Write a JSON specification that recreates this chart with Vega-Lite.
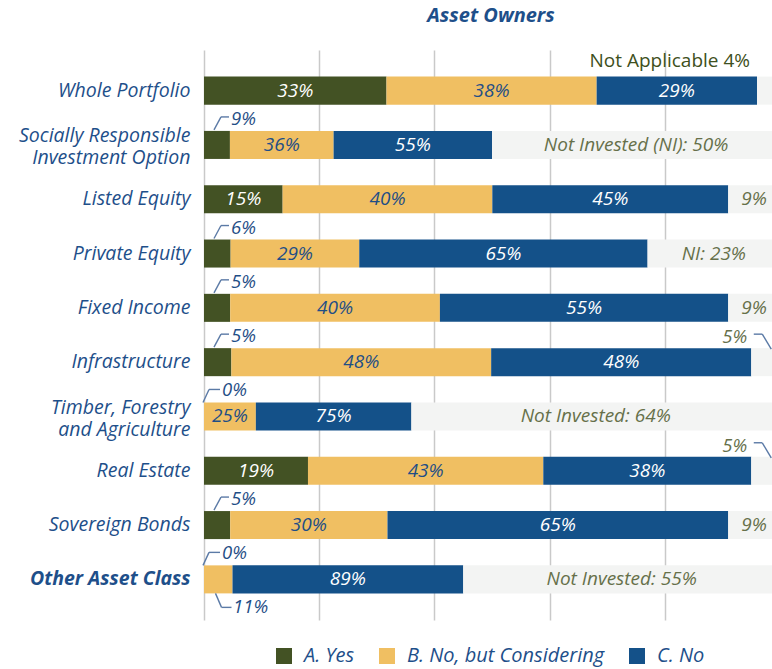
{
  "$schema": "https://vega.github.io/schema/vega-lite/v6.json",
  "width": 568,
  "height": 570,
  "autosize": {"type": "none"},
  "padding": {"left": 204, "top": 50, "right": 0, "bottom": 49},
  "background": "white",
  "title": {"text": "Asset Owners", "fontSize": 20, "fontStyle": "italic", "fontWeight": "bold", "color": "#1e4f8a", "font": "Open Sans", "anchor": "middle", "baseline": "alphabetic", "frame": "group", "offset": 8, "dx": 3},
  "data": {"values": [
    {"category": "Whole Portfolio", "answer": "A. Yes", "share": 31.68, "label": "33%"},
    {"category": "Whole Portfolio", "answer": "B. No, but Considering", "share": 36.48, "label": "38%"},
    {"category": "Whole Portfolio", "answer": "C. No", "share": 27.84, "label": "29%"},
    {"category": "Whole Portfolio", "answer": "Not Invested / Not Applicable", "share": 4, "label": "Not Applicable 4%"},
    {"category": "Socially Responsible Investment Option", "answer": "A. Yes", "share": 4.5, "label": "9%"},
    {"category": "Socially Responsible Investment Option", "answer": "B. No, but Considering", "share": 18, "label": "36%"},
    {"category": "Socially Responsible Investment Option", "answer": "C. No", "share": 27.5, "label": "55%"},
    {"category": "Socially Responsible Investment Option", "answer": "Not Invested / Not Applicable", "share": 50, "label": "Not Invested (NI): 50%"},
    {"category": "Listed Equity", "answer": "A. Yes", "share": 13.65, "label": "15%"},
    {"category": "Listed Equity", "answer": "B. No, but Considering", "share": 36.4, "label": "40%"},
    {"category": "Listed Equity", "answer": "C. No", "share": 40.95, "label": "45%"},
    {"category": "Listed Equity", "answer": "Not Invested / Not Applicable", "share": 9, "label": "9%"},
    {"category": "Private Equity", "answer": "A. Yes", "share": 4.62, "label": "6%"},
    {"category": "Private Equity", "answer": "B. No, but Considering", "share": 22.33, "label": "29%"},
    {"category": "Private Equity", "answer": "C. No", "share": 50.05, "label": "65%"},
    {"category": "Private Equity", "answer": "Not Invested / Not Applicable", "share": 23, "label": "NI: 23%"},
    {"category": "Fixed Income", "answer": "A. Yes", "share": 4.55, "label": "5%"},
    {"category": "Fixed Income", "answer": "B. No, but Considering", "share": 36.4, "label": "40%"},
    {"category": "Fixed Income", "answer": "C. No", "share": 50.05, "label": "55%"},
    {"category": "Fixed Income", "answer": "Not Invested / Not Applicable", "share": 9, "label": "9%"},
    {"category": "Infrastructure", "answer": "A. Yes", "share": 4.75, "label": "5%"},
    {"category": "Infrastructure", "answer": "B. No, but Considering", "share": 45.1, "label": "48%"},
    {"category": "Infrastructure", "answer": "C. No", "share": 45.15, "label": "48%"},
    {"category": "Infrastructure", "answer": "Not Invested / Not Applicable", "share": 5, "label": "5%"},
    {"category": "Timber, Forestry and Agriculture", "answer": "A. Yes", "share": 0, "label": "0%"},
    {"category": "Timber, Forestry and Agriculture", "answer": "B. No, but Considering", "share": 9, "label": "25%"},
    {"category": "Timber, Forestry and Agriculture", "answer": "C. No", "share": 27, "label": "75%"},
    {"category": "Timber, Forestry and Agriculture", "answer": "Not Invested / Not Applicable", "share": 64, "label": "Not Invested: 64%"},
    {"category": "Real Estate", "answer": "A. Yes", "share": 18.05, "label": "19%"},
    {"category": "Real Estate", "answer": "B. No, but Considering", "share": 40.85, "label": "43%"},
    {"category": "Real Estate", "answer": "C. No", "share": 36.1, "label": "38%"},
    {"category": "Real Estate", "answer": "Not Invested / Not Applicable", "share": 5, "label": "5%"},
    {"category": "Sovereign Bonds", "answer": "A. Yes", "share": 4.55, "label": "5%"},
    {"category": "Sovereign Bonds", "answer": "B. No, but Considering", "share": 27.3, "label": "30%"},
    {"category": "Sovereign Bonds", "answer": "C. No", "share": 59.15, "label": "65%"},
    {"category": "Sovereign Bonds", "answer": "Not Invested / Not Applicable", "share": 9, "label": "9%"},
    {"category": "Other Asset Class", "answer": "A. Yes", "share": 0, "label": "0%"},
    {"category": "Other Asset Class", "answer": "B. No, but Considering", "share": 4.95, "label": "11%"},
    {"category": "Other Asset Class", "answer": "C. No", "share": 40.05, "label": "89%"},
    {"category": "Other Asset Class", "answer": "Not Invested / Not Applicable", "share": 55, "label": "Not Invested: 55%"}
  ]},
  "transform": [
    {"stack": "share", "groupby": ["category"], "sort": [{"field": "answer", "order": "ascending"}], "as": ["x0", "x1"]}
  ],
  "encoding": {
    "y": {
      "field": "category", "type": "nominal", "title": null,
      "scale": {"domain": ["Whole Portfolio", "Socially Responsible Investment Option", "Listed Equity", "Private Equity", "Fixed Income", "Infrastructure", "Timber, Forestry and Agriculture", "Real Estate", "Sovereign Bonds", "Other Asset Class"], "paddingInner": 0.484, "paddingOuter": 0.49},
      "axis": {
        "domain": false, "ticks": false, "grid": false, "title": null,
        "labelFont": "Open Sans", "labelFontSize": 19.5, "labelFontStyle": "italic", "labelColor": "#1e4f8a",
        "labelPadding": 14, "labelLimit": 0, "labelLineHeight": 22, "labelAlign": "right", "labelBaseline": "middle",
        "labelOffset": {"condition": {"test": "datum.value === 'Socially Responsible Investment Option' || datum.value === 'Timber, Forestry and Agriculture'", "value": -8.5}, "value": 0},
        "labelFontWeight": {"condition": {"test": "datum.value === 'Other Asset Class'", "value": "bold"}, "value": "normal"},
        "labelExpr": "datum.value === 'Socially Responsible Investment Option' ? ['Socially Responsible', 'Investment Option'] : datum.value === 'Timber, Forestry and Agriculture' ? ['Timber, Forestry', 'and Agriculture'] : datum.value"
      }
    }
  },
  "layer": [
    {
      "mark": {"type": "bar", "clip": true},
      "encoding": {
        "x": {"field": "x0", "type": "quantitative", "scale": {"domain": [0, 98.6], "nice": false, "zero": true},
              "axis": {"title": null, "labels": false, "ticks": false, "domain": false, "grid": true, "values": [0, 20, 40, 60, 80], "gridColor": "#c9c9c9", "gridWidth": 1.5}},
        "x2": {"field": "x1"},
        "color": {"field": "answer", "type": "nominal", "title": null,
          "scale": {"domain": ["A. Yes", "B. No, but Considering", "C. No", "Not Invested / Not Applicable"], "range": ["#435224", "#f0bf62", "#145189", "#f3f4f3"]},
          "legend": {"values": ["A. Yes", "B. No, but Considering", "C. No"], "orient": "none", "direction": "horizontal", "legendX": 70, "legendY": 596,
            "symbolType": "square", "symbolSize": 256, "symbolStrokeWidth": 0, "symbolOpacity": 1,
            "labelFont": "Open Sans", "labelFontSize": 20, "labelFontStyle": "italic", "labelColor": "#1e4f8a", "labelOffset": 10, "columnPadding": 22, "labelLimit": 0}}
      }
    },
    {
      "transform": [{"filter": "datum.share >= 6"}, {"fold": ["x0", "x1"], "as": ["k", "v"]}],
      "mark": {"type": "text", "font": "Open Sans", "fontSize": 19, "fontStyle": "italic", "align": "center", "baseline": "middle"},
      "encoding": {
        "x": {"aggregate": "mean", "field": "v", "type": "quantitative", "title": null},
        "text": {"field": "label"},
        "fill": {"field": "answer", "type": "nominal", "legend": null,
          "scale": {"domain": ["A. Yes", "B. No, but Considering", "C. No", "Not Invested / Not Applicable"], "range": ["#ffffff", "#1f4e86", "#ffffff", "#66704a"]}}
      }
    },
    {
      "transform": [{"filter": "datum.answer === 'A. Yes' && datum.share > 0 && datum.share < 6"}],
      "mark": {"type": "rule", "color": "#5b7aa6", "strokeWidth": 1.4, "xOffset": 10, "x2Offset": 17, "yOffset": -15, "y2Offset": -28},
      "encoding": {"x": {"datum": 0, "type": "quantitative", "title": null}, "x2": {"datum": 0}, "y2": {"field": "category"}}
    },
    {
      "transform": [{"filter": "datum.answer === 'A. Yes' && datum.share > 0 && datum.share < 6"}],
      "mark": {"type": "rule", "color": "#5b7aa6", "strokeWidth": 1.4, "xOffset": 17, "x2Offset": 25, "yOffset": -28},
      "encoding": {"x": {"datum": 0, "type": "quantitative", "title": null}, "x2": {"datum": 0}}
    },
    {
      "transform": [{"filter": "datum.answer === 'A. Yes' && datum.share > 0 && datum.share < 6"}],
      "mark": {"type": "text", "font": "Open Sans", "fontSize": 18.5, "fontStyle": "italic", "align": "left", "baseline": "middle", "dx": 27, "dy": -26, "color": "#1f4e86"},
      "encoding": {"x": {"datum": 0, "type": "quantitative", "title": null}, "text": {"field": "label"}}
    },
    {
      "transform": [{"filter": "datum.answer === 'A. Yes' && datum.share === 0"}],
      "mark": {"type": "rule", "color": "#5b7aa6", "strokeWidth": 1.4, "xOffset": -1, "x2Offset": 5, "yOffset": -14, "y2Offset": -27},
      "encoding": {"x": {"datum": 0, "type": "quantitative", "title": null}, "x2": {"datum": 0}, "y2": {"field": "category"}}
    },
    {
      "transform": [{"filter": "datum.answer === 'A. Yes' && datum.share === 0"}],
      "mark": {"type": "rule", "color": "#5b7aa6", "strokeWidth": 1.4, "xOffset": 5, "x2Offset": 16, "yOffset": -27},
      "encoding": {"x": {"datum": 0, "type": "quantitative", "title": null}, "x2": {"datum": 0}}
    },
    {
      "transform": [{"filter": "datum.answer === 'A. Yes' && datum.share === 0"}],
      "mark": {"type": "text", "font": "Open Sans", "fontSize": 18.5, "fontStyle": "italic", "align": "left", "baseline": "middle", "dx": 18, "dy": -26, "color": "#1f4e86"},
      "encoding": {"x": {"datum": 0, "type": "quantitative", "title": null}, "text": {"field": "label"}}
    },
    {
      "transform": [{"filter": "datum.answer === 'B. No, but Considering' && datum.share < 6"}],
      "mark": {"type": "rule", "color": "#5b7aa6", "strokeWidth": 1.4, "xOffset": 11.5, "x2Offset": 17.5, "yOffset": 14, "y2Offset": 28},
      "encoding": {"x": {"datum": 0, "type": "quantitative", "title": null}, "x2": {"datum": 0}, "y2": {"field": "category"}}
    },
    {
      "transform": [{"filter": "datum.answer === 'B. No, but Considering' && datum.share < 6"}],
      "mark": {"type": "rule", "color": "#5b7aa6", "strokeWidth": 1.4, "xOffset": 17.5, "x2Offset": 27.5, "yOffset": 28},
      "encoding": {"x": {"datum": 0, "type": "quantitative", "title": null}, "x2": {"datum": 0}}
    },
    {
      "transform": [{"filter": "datum.answer === 'B. No, but Considering' && datum.share < 6"}],
      "mark": {"type": "text", "font": "Open Sans", "fontSize": 18.5, "fontStyle": "italic", "align": "left", "baseline": "middle", "dx": 29, "dy": 28, "color": "#1f4e86"},
      "encoding": {"x": {"datum": 0, "type": "quantitative", "title": null}, "text": {"field": "label"}}
    },
    {
      "transform": [{"filter": "datum.answer === 'Not Invested / Not Applicable' && datum.share < 6 && datum.category !== 'Whole Portfolio'"}],
      "mark": {"type": "rule", "color": "#5b7aa6", "strokeWidth": 1.4, "xOffset": 2.5, "x2Offset": 11, "yOffset": -28},
      "encoding": {"x": {"field": "x0", "type": "quantitative", "title": null}, "x2": {"field": "x0"}}
    },
    {
      "transform": [{"filter": "datum.answer === 'Not Invested / Not Applicable' && datum.share < 6 && datum.category !== 'Whole Portfolio'"}],
      "mark": {"type": "rule", "color": "#5b7aa6", "strokeWidth": 1.4, "xOffset": 11, "x2Offset": 20, "yOffset": -28, "y2Offset": -13},
      "encoding": {"x": {"field": "x0", "type": "quantitative", "title": null}, "x2": {"field": "x0"}, "y2": {"field": "category"}}
    },
    {
      "transform": [{"filter": "datum.answer === 'Not Invested / Not Applicable' && datum.share < 6 && datum.category !== 'Whole Portfolio'"}],
      "mark": {"type": "text", "font": "Open Sans", "fontSize": 18.5, "fontStyle": "italic", "align": "right", "baseline": "middle", "dx": -4, "dy": -25, "color": "#66704a"},
      "encoding": {"x": {"field": "x0", "type": "quantitative", "title": null}, "text": {"field": "label"}}
    },
    {
      "transform": [{"filter": "datum.answer === 'Not Invested / Not Applicable' && datum.category === 'Whole Portfolio'"}],
      "mark": {"type": "text", "font": "Open Sans", "fontSize": 19, "align": "right", "baseline": "middle", "dx": -7, "dy": -30, "color": "#3e5020"},
      "encoding": {"x": {"field": "x0", "type": "quantitative", "title": null}, "text": {"field": "label"}}
    }
  ],
  "config": {"view": {"stroke": null}, "font": "Open Sans"}
}
